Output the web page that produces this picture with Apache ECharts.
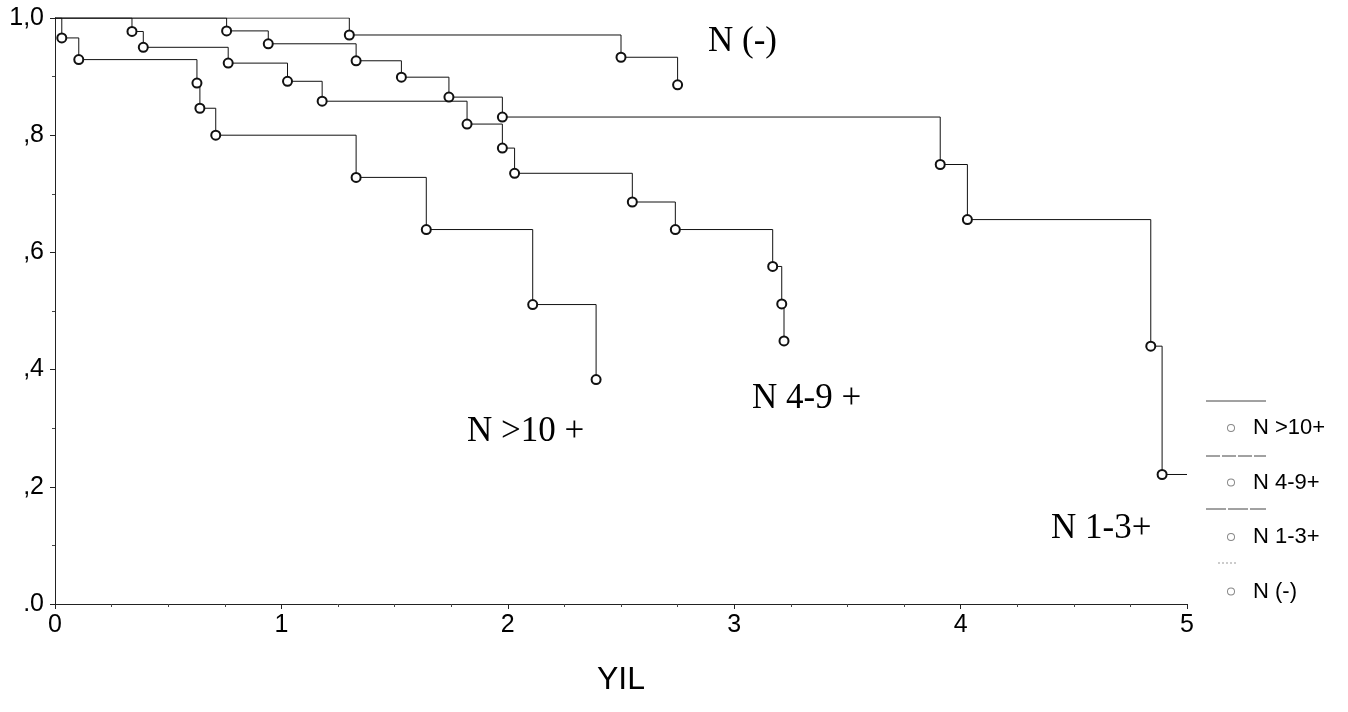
<!DOCTYPE html>
<html>
<head>
<meta charset="utf-8">
<script src="https://cdn.jsdelivr.net/npm/echarts@6/dist/echarts.min.js"></script>
<style>
html,body{margin:0;padding:0;background:#fff;}
#chart{width:1348px;height:712px;}
</style>
</head>
<body>
<div id="chart"></div>
<script>
// ---- data ----
var seriesNames = ['N >10+', 'N 4-9+', 'N 1-3+', 'N (-)'];

var timeN10 = [0, 0.03, 0.105, 0.627, 0.64, 0.71, 1.33, 1.64, 2.11, 2.39];
var survN10 = [1.0, 0.966, 0.929, 0.889, 0.846, 0.800, 0.728, 0.639, 0.511, 0.383];

var timeN49 = [0, 0.34, 0.39, 0.765, 1.027, 1.18, 1.82, 1.976, 2.03, 2.55, 2.74, 3.17, 3.21, 3.22];
var survN49 = [1.0, 0.977, 0.950, 0.923, 0.892, 0.858, 0.819, 0.778, 0.735, 0.686, 0.639, 0.576, 0.512, 0.449];

var timeN13 = [0, 0.758, 0.942, 1.33, 1.53, 1.74, 1.976, 3.91, 4.03, 4.84, 4.89, 5.0];
var survN13 = [1.0, 0.978, 0.956, 0.927, 0.899, 0.865, 0.831, 0.750, 0.656, 0.440, 0.221, 0.221];

var timeNneg = [0, 1.30, 2.50, 2.75];
var survNneg = [1.0, 0.971, 0.933, 0.886];

var xTickLabels = ['0', '1', '2', '3', '4', '5'];
var yTickLabels = ['.0', ',2', ',4', ',6', ',8', '1,0'];
var xAxisTitle = 'YIL';
var curveLabels = ['N (-)', 'N 4-9 +', 'N >10 +', 'N 1-3+'];

// ---- build ----
function pairs(t, s) {
  return t.map(function (v, i) { return [v, s[i]]; });
}
function buildSeries(name, t, s) {
  return {
    name: name,
    type: 'line',
    step: 'end',
    data: pairs(t, s),
    symbol: function (val, params) {
      var i = params.dataIndex;
      if (i === 0 || s[i] === s[i - 1]) return 'none';
      return 'emptyCircle';
    },
    symbolSize: 9,
    showAllSymbol: true,
    lineStyle: { color: '#111', width: 1 },
    itemStyle: { color: '#111', borderWidth: 1.1 },
    emphasis: { disabled: true },
    z: 3
  };
}

var ringIcon = 'path://M0,-10A10,10,0,1,1,0,10A10,10,0,1,1,0,-10ZM0,-7.6A7.6,7.6,0,1,0,0,7.6A7.6,7.6,0,1,0,0,-7.6Z';

var chart = echarts.init(document.getElementById('chart'), null, { renderer: 'canvas' });
var sansFont = '"Liberation Sans", Arial, sans-serif';
var serifFont = '"Liberation Serif", "Times New Roman", serif';

var option = {
  animation: false,
  backgroundColor: '#fff',
  grid: { left: 55, right: 161, top: 18, bottom: 108, containLabel: false },
  xAxis: {
    type: 'value', min: 0, max: 5, interval: 1,
    name: xAxisTitle, nameLocation: 'middle', nameGap: 60,
    nameTextStyle: { fontSize: 32, fontFamily: sansFont, color: '#000' },
    axisLine: { show: true, lineStyle: { color: '#222', width: 1 } },
    axisTick: { show: true, length: 5, lineStyle: { color: '#222' } },
    minorTick: { show: true, splitNumber: 4, length: 3, lineStyle: { color: '#444' } },
    splitLine: { show: false },
    axisLabel: {
      fontSize: 25, fontFamily: sansFont, color: '#000', margin: 9,
      formatter: function (v) { return xTickLabels[Math.round(v)]; }
    }
  },
  yAxis: {
    type: 'value', min: 0, max: 1, interval: 0.2,
    axisLine: { show: true, lineStyle: { color: '#222', width: 1 } },
    axisTick: { show: true, length: 5, lineStyle: { color: '#222' } },
    minorTick: { show: true, splitNumber: 2, length: 3, lineStyle: { color: '#444' } },
    splitLine: { show: false },
    axisLabel: {
      fontSize: 25, fontFamily: sansFont, color: '#000', margin: 11,
      formatter: function (v) { return yTickLabels[Math.round(v * 5)]; }
    }
  },
  legend: {
    orient: 'vertical', left: 1222, top: 411,
    itemWidth: 8, itemHeight: 8, itemGap: 30.5,
    selectedMode: false,
    data: seriesNames.map(function (n) {
      return { name: n, icon: ringIcon, itemStyle: { color: '#888', borderWidth: 0 } };
    }),
    textStyle: { fontSize: 22, lineHeight: 24, fontFamily: sansFont, color: '#000', padding: [0, 0, 0, 13] }
  },
  series: [
    buildSeries(seriesNames[0], timeN10, survN10),
    buildSeries(seriesNames[1], timeN49, survN49),
    buildSeries(seriesNames[2], timeN13, survN13),
    buildSeries(seriesNames[3], timeNneg, survNneg)
  ],
  graphic: [
    { type: 'text', x: 708, y: 42, style: { text: curveLabels[0], font: '35px ' + serifFont, fill: '#000', verticalAlign: 'middle' } },
    { type: 'text', x: 752, y: 399, style: { text: curveLabels[1], font: '35px ' + serifFont, fill: '#000', verticalAlign: 'middle' } },
    { type: 'text', x: 467, y: 432, style: { text: curveLabels[2], font: '35px ' + serifFont, fill: '#000', verticalAlign: 'middle' } },
    { type: 'text', x: 1051, y: 529, style: { text: curveLabels[3], font: '35px ' + serifFont, fill: '#000', verticalAlign: 'middle' } },
    { type: 'line', shape: { x1: 1206, y1: 401, x2: 1266, y2: 401 }, style: { stroke: '#444', lineWidth: 1 } },
    { type: 'line', shape: { x1: 1206, y1: 456, x2: 1266, y2: 456 }, style: { stroke: '#444', lineWidth: 1, lineDash: [14, 2] } },
    { type: 'line', shape: { x1: 1206, y1: 509, x2: 1266, y2: 509 }, style: { stroke: '#444', lineWidth: 1, lineDash: [20, 2] } },
    { type: 'line', shape: { x1: 1218, y1: 563, x2: 1238, y2: 563 }, style: { stroke: '#999', lineWidth: 1, lineDash: [2, 2] } }
  ]
};
chart.setOption(option);
</script>
</body>
</html>
